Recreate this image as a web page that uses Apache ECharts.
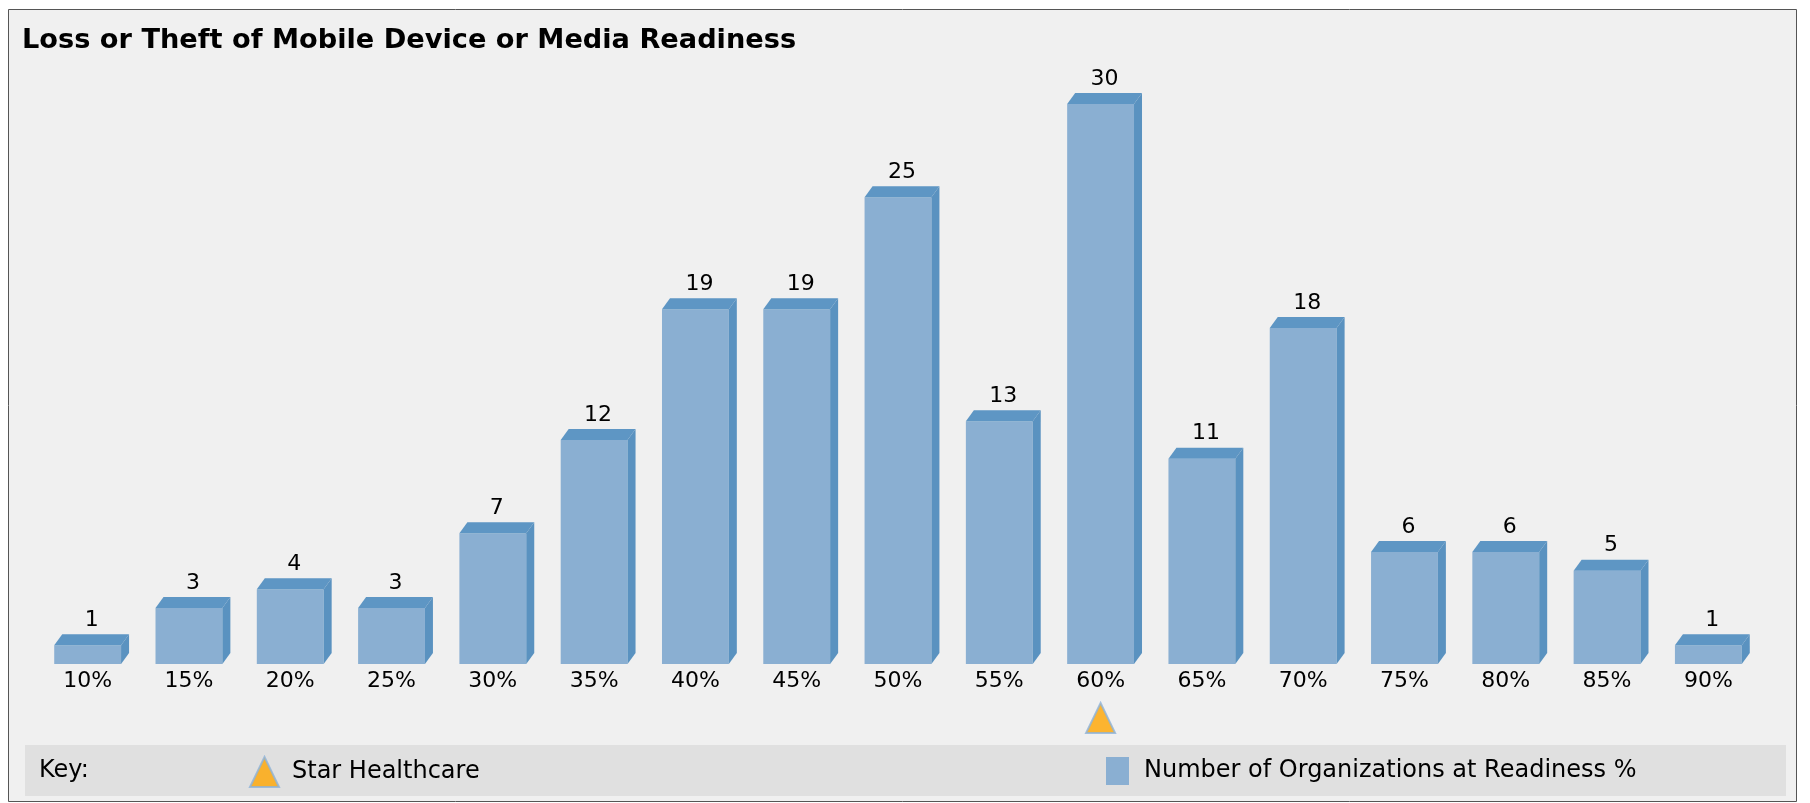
<!DOCTYPE html>
<html>
<head>
<meta charset="utf-8">
<title>Loss or Theft of Mobile Device or Media Readiness</title>
<script src="https://cdn.jsdelivr.net/npm/echarts@6/dist/echarts.min.js"></script>
<style>
  html, body { margin: 0; padding: 0; background: #ffffff; }
  #chart { width: 1810px; height: 803px; }
</style>
</head>
<body>
<div id="chart"></div>
<script>
// Readiness buckets and how many organizations fall in each
const categories = ['10%', '15%', '20%', '25%', '30%', '35%', '40%', '45%', '50%',
                    '55%', '60%', '65%', '70%', '75%', '80%', '85%', '90%'];
const orgCounts = [1, 3, 4, 3, 7, 12, 19, 19, 25, 13, 30, 11, 18, 6, 6, 5, 1];
// Readiness bucket of the highlighted organization
const starHealthcare = ['60%'];

const SERIES_BARS = 'Number of Organizations at Readiness %';
const SERIES_STAR = 'Star Healthcare';

const FONT = '"DejaVu Sans", sans-serif';
const FRONT = '#8AAFD2';
const TOP = '#5E96C4';
const SIDE = '#5A92C0';

// Box-shaped bar: front face, top face and right side, plus value label
function renderBox(params, api) {
  const idx = api.value(0);
  const val = api.value(1);
  const top = api.coord([idx, val]);
  const base = api.coord([idx, 0]);
  const band = api.size([1, 0])[0];
  const w = band * 0.66;
  const dx = 8, dy = 11;
  const x0 = top[0] - w / 2, x1 = top[0] + w / 2;
  const yt = top[1], yb = base[1];
  return {
    type: 'group',
    children: [
      { type: 'rect', shape: { x: x0, y: yt, width: w, height: yb - yt }, style: { fill: FRONT } },
      { type: 'polygon', shape: { points: [[x0, yt], [x0 + dx, yt - dy], [x1 + dx, yt - dy], [x1, yt]] }, style: { fill: TOP } },
      { type: 'polygon', shape: { points: [[x1, yt], [x1 + dx, yt - dy], [x1 + dx, yb - dy], [x1, yb]] }, style: { fill: SIDE } },
      {
        type: 'text', x: (x0 + x1 + dx) / 2, y: yt - dy - 3,
        style: { text: String(val), fill: '#000', font: '22px ' + FONT, align: 'center', verticalAlign: 'bottom' }
      }
    ]
  };
}

const chart = echarts.init(document.getElementById('chart'), null, { renderer: 'canvas' });

chart.setOption({
  animation: false,
  backgroundColor: '#ffffff',
  graphic: [
    {
      type: 'rect', z: -10, silent: true,
      shape: { x: 8.5, y: 9.5, width: 1788, height: 792 },
      style: { fill: '#F0F0F0', stroke: '#555555', lineWidth: 1 }
    },
    {
      type: 'rect', z: -9, silent: true,
      shape: { x: 25, y: 745, width: 1761, height: 51 },
      style: { fill: '#E0E0E0' }
    },
    {
      type: 'text', z: -8, silent: true, x: 39, y: 771,
      style: { text: 'Key:', fill: '#000', font: '24px ' + FONT, verticalAlign: 'middle' }
    }
  ],
  title: {
    text: 'Loss or Theft of Mobile Device or Media Readiness',
    left: 22, top: 27, padding: 0,
    textStyle: { fontFamily: FONT, fontWeight: 'bold', fontSize: 27.2, color: '#000' }
  },
  legend: [
    {
      data: [{ name: SERIES_STAR, icon: 'triangle' }],
      left: 249, top: 756, itemWidth: 29, itemHeight: 30, padding: 0,
      selectedMode: false,
      textStyle: { fontFamily: FONT, fontSize: 24, color: '#000', padding: [0, 0, 0, 8] }
    },
    {
      data: [{ name: SERIES_BARS, icon: 'rect' }],
      left: 1106, top: 757, itemWidth: 23, itemHeight: 28, padding: 0,
      selectedMode: false,
      textStyle: { fontFamily: FONT, fontSize: 24, color: '#000', padding: [0, 0, 0, 10] }
    }
  ],
  grid: [
    { left: 37, width: 1722, top: 104, height: 560 },
    { left: 37, width: 1722, top: 700, height: 36 }
  ],
  xAxis: [
    {
      type: 'category', gridIndex: 0, data: categories,
      axisLine: { show: false }, axisTick: { show: false },
      axisLabel: { fontFamily: FONT, fontSize: 22, color: '#000', margin: 6, interval: 0 }
    },
    {
      type: 'category', gridIndex: 1, data: categories, show: false
    }
  ],
  yAxis: [
    { type: 'value', gridIndex: 0, min: 0, max: 30, show: false, splitLine: { show: false } },
    { type: 'value', gridIndex: 1, min: -1, max: 1, show: false, splitLine: { show: false } }
  ],
  series: [
    {
      name: SERIES_BARS,
      type: 'custom',
      xAxisIndex: 0, yAxisIndex: 0,
      renderItem: renderBox,
      itemStyle: { color: FRONT },
      encode: { x: 0, y: 1 },
      data: orgCounts.map((v, i) => [i, v])
    },
    {
      name: SERIES_STAR,
      type: 'scatter',
      xAxisIndex: 1, yAxisIndex: 1,
      symbol: 'triangle',
      symbolSize: [29, 30],
      clip: false,
      itemStyle: { color: '#FFA500', borderColor: '#8DB3DA', borderWidth: 2 },
      data: starHealthcare.map(c => [c, 0])
    }
  ]
});
</script>
</body>
</html>
